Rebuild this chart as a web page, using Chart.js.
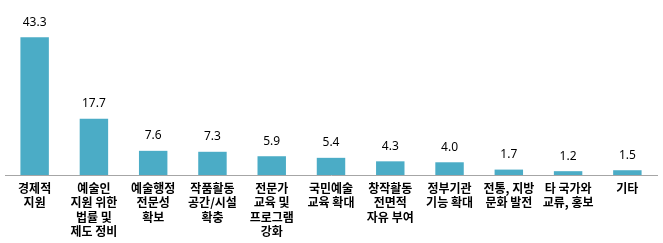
<!DOCTYPE html>
<html>
<head>
<meta charset="utf-8">
<script src="https://cdn.jsdelivr.net/npm/chart.js@4.4.1/dist/chart.umd.min.js"></script>
<style>
  html, body { margin: 0; padding: 0; background: #fff; }
  #wrap { width: 663px; height: 243px; position: relative; }
</style>
</head>
<body>
<div id="wrap"><canvas id="chart"></canvas></div>
<script>
// categories (multi-line labels)
const categories = [
    ['경제적', '지원'],
    ['예술인', '지원 위한', '법률 및', '제도 정비'],
    ['예술행정', '전문성', '확보'],
    ['작품활동', '공간/시설', '확충'],
    ['전문가', '교육 및', '프로그램', '강화'],
    ['국민예술', '교육 확대'],
    ['창작활동', '전면적', '자유 부여'],
    ['정부기관', '기능 확대'],
    ['전통, 지방', '문화 발전'],
    ['타 국가와', '교류, 홍보'],
    ['기타']
];
const values = [43.3, 17.7, 7.6, 7.3, 5.9, 5.4, 4.3, 4.0, 1.7, 1.2, 1.5];

const barColor = '#4bacc6';

// value labels above bars
const valueLabels = {
    id: 'valueLabels',
    afterDatasetsDraw(chart) {
        const ctx = chart.ctx;
        const meta = chart.getDatasetMeta(0);
        ctx.save();
        ctx.font = '12px "Noto Sans", sans-serif';
        ctx.fillStyle = '#000';
        ctx.textAlign = 'center';
        ctx.textBaseline = 'bottom';
        meta.data.forEach((bar, i) => {
            ctx.fillText(values[i].toFixed(1), bar.x, bar.y - 9);
        });
        ctx.restore();
    }
};

new Chart(document.getElementById('chart'), {
    type: 'bar',
    data: {
        labels: categories,
        datasets: [{
            data: values,
            backgroundColor: barColor,
            borderWidth: 0,
            barPercentage: 0.48,
            categoryPercentage: 1
        }]
    },
    options: {
        responsive: true,
        maintainAspectRatio: false,
        animation: false,
        layout: { padding: { top: 16, left: 5, right: 6, bottom: 0 } },
        plugins: {
            legend: { display: false },
            tooltip: { enabled: false }
        },
        scales: {
            x: {
                grid: { display: false, drawTicks: false },
                border: { display: true, color: '#a6a6a6', width: 1 },
                ticks: {
                    autoSkip: false,
                    maxRotation: 0,
                    padding: 6,
                    color: '#000',
                    font: { family: '"Noto Sans CJK KR", sans-serif', size: 12, weight: 'bold', lineHeight: 1.2 }
                },
                afterFit(scale) { scale.height = 68; }
            },
            y: {
                display: false,
                min: 0,
                max: 50
            }
        }
    },
    plugins: [valueLabels]
});
</script>
</body>
</html>
